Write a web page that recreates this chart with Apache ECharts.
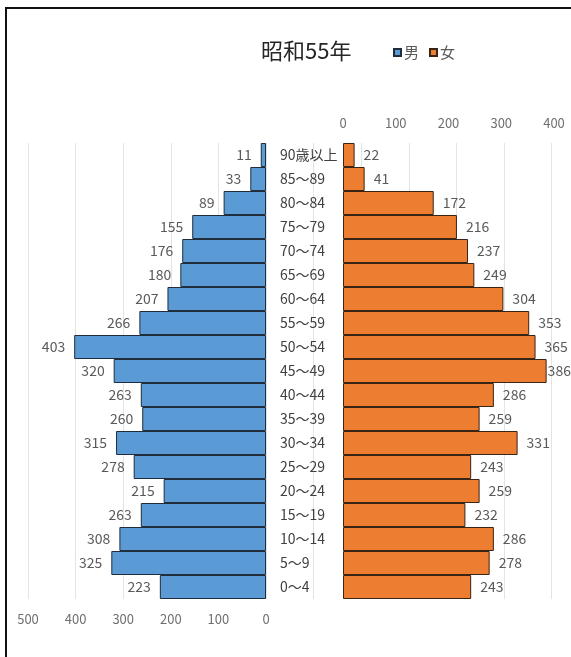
<!DOCTYPE html>
<html>
<head>
<meta charset="utf-8">
<style>
  html, body { margin: 0; padding: 0; background: #fff; }
  #chart { width: 571px; height: 657px; }
</style>
<script src="https://cdn.jsdelivr.net/npm/echarts@6/dist/echarts.min.js"></script>
</head>
<body>
<div id="chart"></div>
<script>
// Age groups, youngest first (drawn bottom to top)
const ageGroups = ['0～4', '5～9', '10～14', '15～19', '20～24', '25～29', '30～34', '35～39',
  '40～44', '45～49', '50～54', '55～59', '60～64', '65～69', '70～74', '75～79', '80～84',
  '85～89', '90歳以上'];
const male = [223, 325, 308, 263, 215, 278, 315, 260, 263, 320, 403, 266, 207, 180, 176, 155, 89, 33, 11];
const female = [243, 278, 286, 232, 259, 243, 331, 259, 286, 386, 365, 353, 304, 249, 237, 216, 172, 41, 22];
const maleTicks = [0, 100, 200, 300, 400, 500];
const femaleTicks = [0, 100, 200, 300, 400];

const FONT = '"Noto Sans CJK JP", "Noto Sans", sans-serif';
const TOP = 143, HEIGHT = 456;
const PX = 47.6 / 100;                  // male axis: pixels per person
const MALE_LEFT = 28, MALE_W = PX * maleTicks[maleTicks.length - 1];
const FEM_LEFT = 343, FEM_W = 211;
const FEM_MAX = femaleTicks[femaleTicks.length - 1];

// labels near the right edge of the page hug their bar so they stay visible
const femaleData = female.map(v => {
  const end = FEM_LEFT + FEM_W * v / FEM_MAX;
  return end > 540 ? { value: v, label: { distance: 1 } } : v;
});

const chart = echarts.init(document.getElementById('chart'));
chart.setOption({
  backgroundColor: '#fff',
  animation: false,
  title: {
    text: '昭和55年',
    left: 256, top: 35,
    textStyle: { fontFamily: FONT, fontSize: 22, fontWeight: 'normal', color: '#262626' }
  },
  legend: {
    data: ['男', '女'],
    left: 388, top: 40,
    icon: 'rect', itemWidth: 7, itemHeight: 7, itemGap: 10,
    textStyle: { fontFamily: FONT, fontSize: 15, color: '#595959', padding: [0, 0, 0, -2] }
  },
  grid: [
    // gridlines spanning the whole plot, spaced like the male scale
    { left: MALE_LEFT, top: TOP, width: PX * 1100, height: HEIGHT },
    { left: MALE_LEFT, top: TOP, width: MALE_W, height: HEIGHT },
    { left: FEM_LEFT, top: TOP, width: FEM_W, height: HEIGHT }
  ],
  xAxis: [
    {
      gridIndex: 0, type: 'value', min: 0, max: 1100, interval: 100,
      axisLine: { show: false }, axisTick: { show: false }, axisLabel: { show: false },
      splitLine: { show: true, lineStyle: { color: '#e3e3e3', width: 1 } }
    },
    {
      gridIndex: 1, type: 'value', inverse: true, position: 'bottom',
      min: maleTicks[0], max: maleTicks[maleTicks.length - 1], interval: 100,
      axisLine: { show: false }, axisTick: { show: false }, splitLine: { show: false },
      axisLabel: { margin: 14, fontFamily: FONT, fontSize: 13, color: '#6f6f6f' }
    },
    {
      gridIndex: 2, type: 'value', position: 'top',
      min: femaleTicks[0], max: FEM_MAX, interval: 100,
      axisLine: { show: false }, axisTick: { show: false }, splitLine: { show: false },
      axisLabel: { margin: 13, fontFamily: FONT, fontSize: 13, color: '#6f6f6f' }
    }
  ],
  yAxis: [
    { gridIndex: 0, type: 'category', data: ageGroups, show: false },
    { gridIndex: 1, type: 'category', data: ageGroups, show: false },
    {
      gridIndex: 2, type: 'category', data: ageGroups, position: 'left',
      axisLine: { show: false }, axisTick: { show: false },
      axisLabel: { align: 'left', margin: 63, fontFamily: FONT, fontSize: 14, color: '#404040' }
    }
  ],
  series: [
    {
      name: '男', type: 'bar', xAxisIndex: 1, yAxisIndex: 1, data: male,
      barCategoryGap: '0%',
      itemStyle: { color: '#5b9bd5', borderColor: '#1f2d3d', borderWidth: 1 },
      label: { show: true, position: 'left', distance: 9, fontFamily: FONT, fontSize: 14, color: '#595959' }
    },
    {
      name: '女', type: 'bar', xAxisIndex: 2, yAxisIndex: 2, data: femaleData,
      barCategoryGap: '0%',
      itemStyle: { color: '#ed7d31', borderColor: '#3a2414', borderWidth: 1 },
      label: { show: true, position: 'right', distance: 9, fontFamily: FONT, fontSize: 14, color: '#595959' }
    }
  ],
  graphic: [
    {
      type: 'polyline', silent: true,
      shape: { points: [[6, 657], [6, 8], [571, 8]] },
      style: { stroke: '#111', lineWidth: 2, fill: null }
    }
  ]
});
</script>
</body>
</html>
